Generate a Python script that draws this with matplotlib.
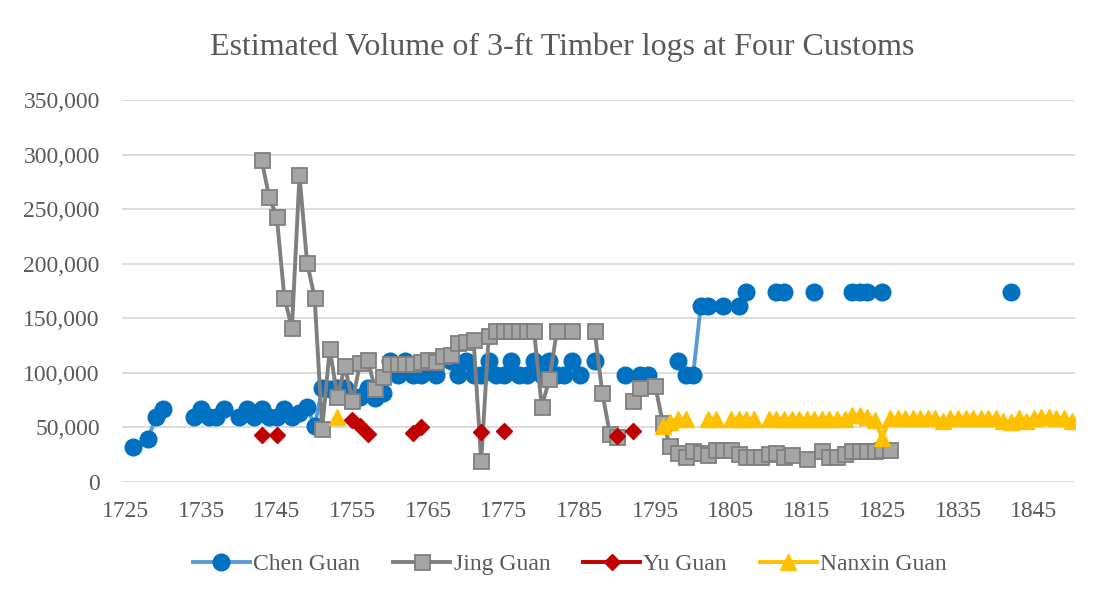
import numpy as np
import matplotlib.pyplot as plt
from matplotlib.ticker import FuncFormatter

plt.rcParams['font.family'] = ['Liberation Serif', 'DejaVu Serif']

# values (gaps = years with no data)
chen_years = [1726, 1728, 1729, 1730, 1734, 1735, 1736, 1737, 1738, 1740, 1741, 1742,
              1743, 1744, 1745, 1746, 1747, 1748, 1749, 1750, 1751, 1752, 1753, 1754,
              1755, 1756, 1757, 1758, 1759, 1760, 1761, 1762, 1763, 1764, 1765, 1766,
              1768, 1769, 1770, 1771, 1772, 1773, 1774, 1775, 1776, 1777, 1778, 1779,
              1780, 1781, 1782, 1783, 1784, 1785, 1787, 1791, 1793, 1794, 1798, 1799,
              1800, 1801, 1802, 1804, 1806, 1807, 1811, 1812, 1816, 1821, 1822, 1823,
              1825, 1842]
chen_vals = [32000, 39000, 59500, 67000, 60000, 67000, 60000, 60000, 67000, 60000, 67000, 60000,
             67000, 60000, 60000, 67000, 60000, 63000, 69000, 51000, 86000, 85000, 86000, 86000,
             78000, 78000, 86000, 77000, 82000, 111000, 98000, 111000, 98000, 98000, 111000, 98000,
             111000, 98000, 111000, 98000, 98000, 111000, 98000, 98000, 111000, 98000, 98000, 111000,
             98000, 111000, 98000, 98000, 111000, 98000, 111000, 98000, 98000, 98000, 111000, 98000,
             98000, 161000, 161000, 161000, 161000, 174000, 174000, 174000, 174000, 174000, 174000, 174000,
             174000, 174000]

jing_years = [1743, 1744, 1745, 1746, 1747, 1748, 1749, 1750, 1751, 1752, 1753, 1754,
              1755, 1756, 1757, 1758, 1759, 1760, 1761, 1762, 1763, 1764, 1765, 1766,
              1767, 1768, 1769, 1770, 1771, 1772, 1773, 1774, 1775, 1776, 1777, 1778,
              1779, 1780, 1781, 1782, 1784, 1787, 1788, 1789, 1790, 1792, 1793, 1795,
              1796, 1797, 1798, 1799, 1800, 1801, 1802, 1803, 1804, 1805, 1806, 1807,
              1808, 1809, 1810, 1811, 1812, 1813, 1815, 1817, 1818, 1819, 1820, 1821,
              1822, 1823, 1824, 1825, 1826]
jing_vals = [295000, 261000, 243000, 169000, 141000, 281000, 201000, 169000, 49000, 122000, 78000, 106000,
             74000, 109000, 112000, 85000, 96000, 108000, 108000, 108000, 108000, 110000, 112000, 110000,
             115000, 116000, 127000, 128000, 130000, 19000, 134000, 138000, 138000, 138000, 138000, 138000,
             138000, 69000, 94000, 138000, 138000, 138000, 82000, 44000, 41000, 74000, 86000, 88000,
             54000, 33000, 27000, 23000, 28000, 27000, 25000, 29000, 29000, 29000, 26000, 23000,
             23000, 23000, 26000, 27000, 23000, 25000, 21000, 28000, 23000, 23000, 26000, 28000,
             28000, 28500, 28500, 29000, 29000]

yu_years = [1743, 1745, 1755, 1756, 1757, 1763, 1764, 1772, 1775, 1790, 1792]
yu_vals = [43000, 43000, 57000, 51000, 44000, 44500, 50500, 46000, 47000, 42500, 47000]

nanxin_years = [1753, 1796, 1797, 1798, 1799, 1802, 1803, 1805, 1806, 1807, 1808] + list(range(1810, 1851))
nanxin_vals = [60000, 51000, 55000, 58000, 58000, 58000, 58000, 58000, 58000, 58000, 58000,
               # 1810 - 1820
               58000, 58000, 58000, 58000, 58000, 58000, 58000, 58000, 58000, 58000, 58000,
               # 1821 - 1830
               61000, 61000, 60000, 57000, 40000, 59000, 59000, 59000, 59000, 59000,
               # 1831 - 1840
               59000, 59000, 56000, 59000, 59000, 59000, 59000, 59000, 59000, 59000,
               # 1841 - 1850
               56000, 55000, 59000, 56000, 59000, 60000, 60000, 59000, 59000, 56000]

tick_years = list(range(1725, 1850, 10))
all_years = np.arange(1725, 1851)


# put a series on the full year range, NaN where there is no value
def on_years(years, vals):
    s = np.full(len(all_years), np.nan)
    for y, v in zip(years, vals):
        s[y - 1725] = v
    return s


fig = plt.figure(figsize=(11.14, 5.97), dpi=100)
ax = fig.add_axes([0.1095, 0.1926, 0.8555, 0.6399])

txt = '#595959'
ax.plot(all_years, on_years(chen_years, chen_vals), color='#5B9BD5', lw=2.8,
        marker='o', ms=12, mfc='#0070C0', mec='#0070C0', label='Chen Guan', zorder=3)
ax.plot(all_years, on_years(jing_years, jing_vals), color='#7F7F7F', lw=2.8,
        marker='s', ms=10.8, mfc='#A5A5A5', mec='#7F7F7F', mew=1.3, label='Jing Guan', zorder=4)
ax.plot(all_years, on_years(yu_years, yu_vals), color='#C00000', lw=2.8,
        marker='D', ms=8.2, mfc='#C00000', mec='#C00000', label='Yu Guan', zorder=5)
ax.plot(all_years, on_years(nanxin_years, nanxin_vals), color='#FFC000', lw=2.8,
        marker='^', ms=11.5, mfc='#FFC000', mec='#FFC000', label='Nanxin Guan', zorder=6)

ax.set_xlim(1724.55, 1850.45)
ax.set_ylim(0, 350000)
ax.set_yticks(range(0, 350001, 50000))
ax.yaxis.set_major_formatter(FuncFormatter(lambda v, p: '{:,.0f}'.format(v)))
ax.set_xticks(tick_years)
ax.tick_params(length=0, labelsize=17, labelcolor=txt)
ax.tick_params(axis='y', pad=16)
ax.tick_params(axis='x', pad=14)
ax.grid(axis='y', color='#D9D9D9', lw=1.3)
ax.set_axisbelow(True)
for sp in ax.spines.values():
    sp.set_visible(False)

fig.text(0.505, 0.921, 'Estimated Volume of 3-ft Timber logs at Four Customs',
         ha='center', va='center', fontsize=23, color=txt)

ax.legend(loc='center', bbox_to_anchor=(0.47, -0.215), ncol=4, frameon=False,
          fontsize=17, labelcolor=txt, handlelength=2.4, handletextpad=0.15,
          columnspacing=1.4)

fig.savefig('out.png', dpi=100)
